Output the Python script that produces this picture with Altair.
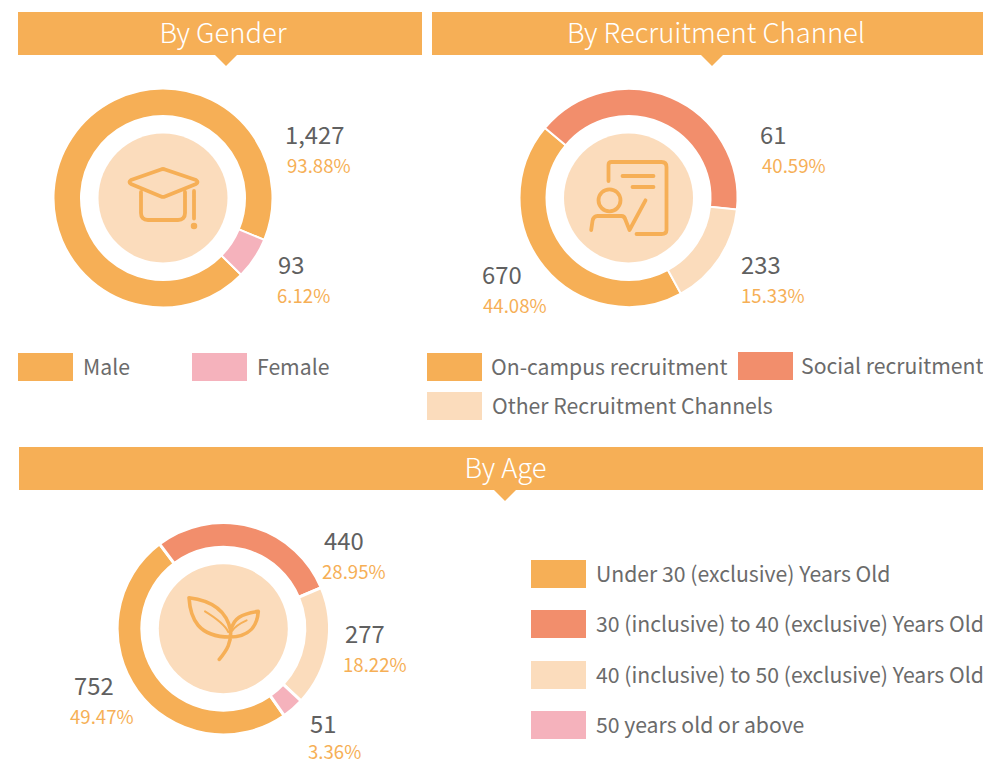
import math
import altair as alt
import pandas as pd

# ---- chart values ----
gender_names = ["Male", "Female"]
gender_pct = [93.88, 6.12]
gender_count = ["1,427", "93"]

channel_names = ["On-campus recruitment", "Social recruitment", "Other Recruitment Channels"]
channel_pct = [44.08, 40.59, 15.33]
channel_count = ["670", "61", "233"]

age_names = ["Under 30 (exclusive) Years Old", "30 (inclusive) to 40 (exclusive) Years Old",
             "40 (inclusive) to 50 (exclusive) Years Old", "50 years old or above"]
age_pct = [49.47, 28.95, 18.22, 3.36]
age_count = ["752", "440", "277", "51"]

titles = ["By Gender", "By Recruitment Channel", "By Age"]

# ---- styles ----
ORANGE, CORAL, PEACH, PINK = "#F6AF56", "#F28E6C", "#FBDCBC", "#F5B2BC"
gender_colors = [ORANGE, PINK]
channel_colors = [ORANGE, CORAL, PEACH]
age_colors = [ORANGE, CORAL, PEACH, PINK]
FONT = "Noto Sans CJK SC"
OX, OY = 8, 8  # page margin
TEXT_DY = 2
blank = alt.Data(values=[{}])


def px(x):
    return alt.value(x - OX)


def py(y):
    return alt.value(y - OY)


def rect(x0, y0, x1, y1, color):
    return alt.Chart(blank).mark_rect(color=color).encode(x=px(x0), x2=px(x1), y=py(y0), y2=py(y1))


def txt(s, x, y, size, color, align="left", weight=400):
    return alt.Chart(blank).mark_text(text=s, font=FONT, fontSize=size, color=color, align=align,
                                      baseline="middle", fontWeight=weight).encode(x=px(x), y=py(y + TEXT_DY))


def glyph(path, x, y, fill=None, stroke=None, sw=0.0):
    kw = dict(shape=path, size=4, opacity=1, filled=fill is not None, strokeCap="round", strokeJoin="round")
    if fill is not None:
        kw["fill"] = fill
    if stroke is not None:
        kw["stroke"] = stroke
        kw["strokeWidth"] = sw
    return alt.Chart(blank).mark_point(**kw).encode(x=px(x), y=py(y))


def donut(names, vals, colors, cx, cy, r0, r1, start_deg, sw):
    df = pd.DataFrame({"name": names, "pct": vals, "i": range(len(names))})
    a = math.radians(start_deg)
    return alt.Chart(df).mark_arc(innerRadius=r0, outerRadius=r1, stroke="white", strokeWidth=sw).encode(
        theta=alt.Theta("pct:Q", stack=True, scale=alt.Scale(domain=[0, 100], range=[a, a + 2 * math.pi])),
        order=alt.Order("i:Q"),
        color=alt.Color("name:N", legend=None, scale=alt.Scale(domain=names, range=colors)),
        x=px(cx), y=py(cy),
    )


def disc(cx, cy, r):
    return alt.Chart(blank).mark_point(shape="circle", size=(2 * r) ** 2, filled=True, fill=PEACH,
                                       opacity=1, strokeWidth=0).encode(x=px(cx), y=py(cy))


def banner(x0, x1, y0, y1, notch, title, tx):
    tri = glyph("M-11,0L11,0L0,11Z", notch, y1, fill=ORANGE)
    return [rect(x0, y0, x1, y1, ORANGE), tri, txt(title, tx, (y0 + y1) / 2 - 0.5, 27.4, "white", "center", 300)]


def labels(counts, pcts, pos):
    out = []
    for c, p, (x, y, x2, y2) in zip(counts, pcts, pos):
        out.append(txt(c, x, y, 23.8, "#606060"))
        out.append(txt(f"{p:.2f}%", x2, y2, 18.6, ORANGE))
    return out


CAP = ("M-2,-28.5Q0,-29.5 2,-28.5L33,-18Q36,-16 33,-14L2,-1.5Q0,-0.7 -2,-1.5L-32,-14Q-35,-16 -32,-18Z"
       "M-22,-6L-22,15Q-22,22 -15,22L15,22Q22,22 22,15L22,-6M31,-7L31,20.5")
CAP_DOT = "M29,28a2,2 0 1,0 4,0a2,2 0 1,0 -4,0"
DOC = ("M-20,-17L-20,-33Q-20,-36 -17,-36L33,-36Q38,-36 38,-31L38,32Q38,36 33,36L8,36"
       "M-6,-22L25,-22M4,-11L25,-11"
       "M-30,2.3a11,11 0 1,0 22,0a11,11 0 1,0 -22,0"
       "M-37.3,32L-36,23Q-35,18 -31,18L-7,18Q-4,18 -3,22L1,32L17,2.3")
LEAF = ("M-34.3,-31C-14,-28.5 3,-20 7.3,1.7M-34.3,-31C-33,-10 -25,8.3 6.7,8.3"
        "M8,1C10,-10 18,-15 35,-17.3C34,-3 26,8.3 6.7,8.3M7.3,1.7C8,14 4,21 -4,30.7")
VEIN = "M-18.3,-17.3C-8,-11 2,-3 5,3.3M23.3,-8.3C16,-5 11,-1 9,2"

layers = []
layers += banner(18, 422, 12, 55, 226, titles[0], 223)
layers += banner(432, 983, 12, 55, 712, titles[1], 716)
layers += banner(19, 983, 447, 490, 505, titles[2], 505.5)

layers.append(donut(gender_names, gender_pct, gender_colors, 163, 198, 82, 109.5, 134.5, 2))
layers.append(donut(channel_names, channel_pct, channel_colors, 628.5, 198, 82, 109, 151.3, 2))
layers.append(donut(age_names, age_pct, age_colors, 223.3, 628.7, 81.5, 106.2, 145, 3))

layers += [disc(163, 198, 64.5), disc(628.5, 198, 64.5), disc(223.3, 628.7, 64.5)]
layers.append(glyph(CAP, 163, 198, stroke=ORANGE, sw=3.8))
layers.append(glyph(CAP_DOT, 163, 198, fill=ORANGE, stroke=ORANGE, sw=2.5))
layers.append(glyph(DOC, 628.5, 198, stroke=ORANGE, sw=3.8))
layers.append(glyph(LEAF, 223.3, 628.7, stroke=ORANGE, sw=3.6))
layers.append(glyph(VEIN, 223.3, 628.7, stroke=ORANGE, sw=2))

layers += labels(gender_count, gender_pct, [(285, 135, 287, 165), (278, 265, 277, 295)])
layers += labels(channel_count, channel_pct, [(482, 275, 483, 305), (760, 135, 762, 165), (741, 265, 741, 295)])
layers += labels(age_count, age_pct, [(74, 686, 70, 716), (324, 541, 322, 571), (345, 634, 343, 664), (310, 724, 308, 751)])

SW, SH = 55, 28
LG = "#6B6B6B"
LS = 21.2
for n, c, x, y, tx in zip(gender_names, gender_colors, [18, 192], [353, 353], [83, 257]):
    layers += [rect(x, y, x + SW, y + SH, c), txt(n, tx, y + 14, LS, LG)]
for n, c, x, y, tx in zip(channel_names, channel_colors, [427, 738, 427], [353, 352, 392], [491, 801, 492]):
    layers += [rect(x, y, x + SW, y + SH, c), txt(n, tx, y + 14, LS, LG)]
for n, c, y in zip(age_names, age_colors, [560, 610, 661, 711]):
    layers += [rect(531, y, 531 + SW, y + SH, c), txt(n, 596, y + 14, LS, LG)]

chart = alt.layer(*layers).resolve_scale(theta="independent", color="independent").properties(
    width=975, height=757, padding=0, autosize=alt.AutoSizeParams(type="none"), background="white",
).configure_view(stroke=None)

chart.save("out.html", embed_options={"renderer": "svg", "actions": False})
